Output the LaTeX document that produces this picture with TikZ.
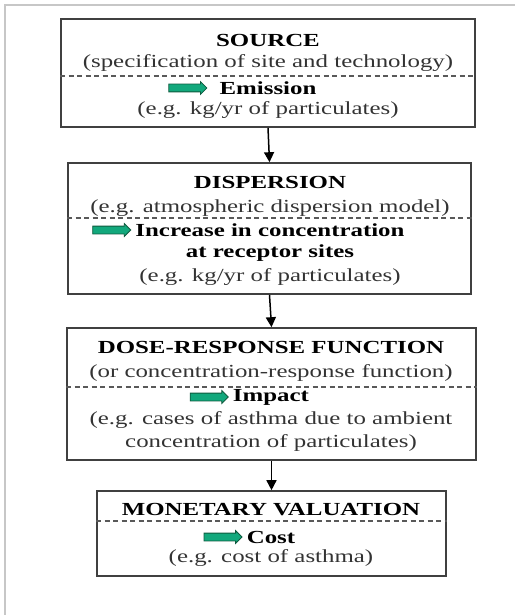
\documentclass[tikz,border=0pt]{standalone}
\usepackage{fontspec}
\setmainfont[FakeStretch=1.35]{Liberation Serif}
\usetikzlibrary{positioning, arrows.meta, shapes.arrows, calc}
\definecolor{flowgreen}{HTML}{12A87C}
\definecolor{flowedge}{HTML}{0E5A3E}
\tikzset{
    stage/.style={draw=black!75, line width=1.6bp, inner sep=0pt},
    divider/.style={draw=black!65, line width=1.2bp, dash pattern=on 5bp off 3.5bp},
    txt/.style={inner sep=0pt, text=black!80, font=\fontsize{18.5}{23}\selectfont},
    head/.style={inner sep=0pt, text=black, font=\fontsize{18.5}{23}\selectfont\bfseries},
    flowarrow/.style={single arrow, draw=flowedge, fill=flowgreen, line width=0.8bp,
        minimum width=12bp, minimum height=38bp, single arrow head extend=2.5bp,
        inner xsep=0pt, inner ysep=3.5bp},
    flow/.style={line width=1.5bp, -{Triangle[length=10bp,width=10bp]}}
}
\begin{document}
\begin{tikzpicture}[x=1bp, y=-1bp]

    \useasboundingbox (0,0) rectangle (515,615);
    \draw[black!22, line width=1.5bp] (5,615) -- (5,5) -- (515,5);

    \node[stage, minimum width=414bp, minimum height=108bp] (source) at (268,73) {};
    \node[stage, minimum width=403bp, minimum height=131bp] (dispersion) at (269.5,228.5) {};
    \node[stage, minimum width=409bp, minimum height=132bp] (doseresp) at (271.5,394) {};
    \node[stage, minimum width=349bp, minimum height=85bp] (valuation) at (271.5,533.5) {};

    \coordinate (sourcecut) at (268,76);
    \coordinate (dispersioncut) at (270,218);
    \coordinate (doserespcut) at (271,387);
    \coordinate (valuationcut) at (271,521);
    \foreach \x in {source, dispersion, doseresp, valuation}
        \draw[divider] (\x.west |- \x cut) -- (\x.east |- \x cut);

    \draw[flow] (source.south) -- (dispersion.north);
    \draw[flow] (dispersion.south) -- (doseresp.north);
    \draw[flow] (doseresp.south) -- (valuation.north);

    \node[head] (sourcetitle) at (268,40) {SOURCE};
    \node[txt] (sourcenote) at (268,63) {(specification of site and technology)};
    \node[head] (emission) at (268,88) {Emission};
    \node[txt] (emissionnote) at (268,110) {(e.g. kg/yr of particulates)};
    \node[flowarrow, left=12bp of emission] (emissionarrow) {};

    \node[head] (dispersiontitle) at (270,182) {DISPERSION};
    \node[txt] (dispersionnote) at (270,208) {(e.g. atmospheric dispersion model)};
    \node[head] (increase) at (270,230) {Increase in concentration};
    \node[head] (receptor) at (270,253) {at receptor sites};
    \node[txt] (increasenote) at (270,277) {(e.g. kg/yr of particulates)};
    \node[flowarrow, left=4bp of increase] (increasearrow) {};

    \node[head] (doseresptitle) at (271,347) {DOSE-RESPONSE FUNCTION};
    \node[txt] (doserespnote) at (271,373) {(or concentration-response function)};
    \node[head] (impact) at (271,397) {Impact};
    \node[txt] (impactnote) at (271,420) {(e.g. cases of asthma due to ambient};
    \node[txt] (impactnotetwo) at (271,443) {concentration of particulates)};
    \node[flowarrow, left=4bp of impact] (impactarrow) {};

    \node[head] (valuationtitle) at (271,510) {MONETARY VALUATION};
    \node[head] (cost) at (271,537) {Cost};
    \node[txt] (costnote) at (271,558) {(e.g. cost of asthma)};
    \node[flowarrow, left=4bp of cost] (costarrow) {};

\end{tikzpicture}
\end{document}
